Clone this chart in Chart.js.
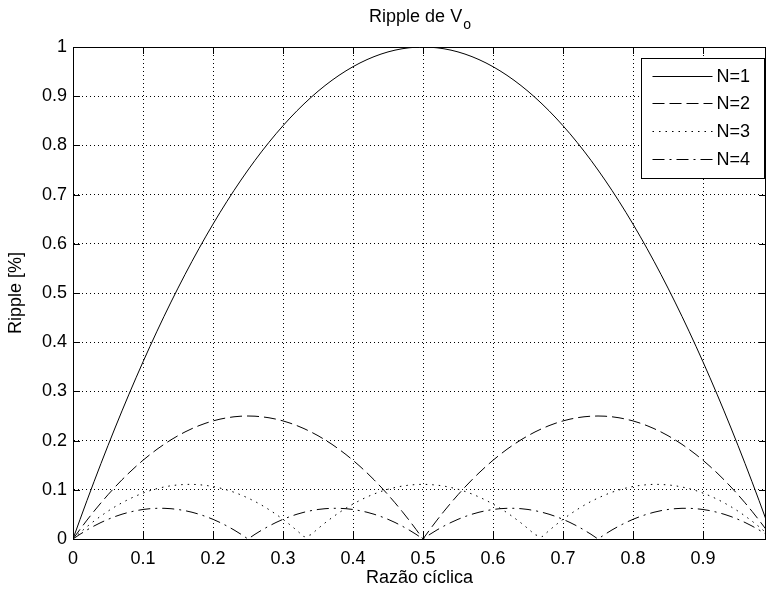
<!DOCTYPE html>
<html>
<head>
<meta charset="utf-8">
<title>Ripple de Vo</title>
<script src="https://cdn.jsdelivr.net/npm/chart.js@4.4.1/dist/chart.umd.min.js"></script>
<style>
  html, body { margin: 0; padding: 0; background: #fff; }
  canvas { display: block; }
</style>
</head>
<body>
<canvas id="ripple" width="766" height="594"></canvas>
<script>
// razao ciclica (D), 0 .. 0.99
const razao = [
  0, 0.01, 0.02, 0.03, 0.04, 0.05, 0.06, 0.07, 0.08, 0.09,
  0.10, 0.11, 0.12, 0.13, 0.14, 0.15, 0.16, 0.17, 0.18, 0.19,
  0.20, 0.21, 0.22, 0.23, 0.24, 0.25, 0.26, 0.27, 0.28, 0.29,
  0.30, 0.31, 0.32, 0.33, 0.34, 0.35, 0.36, 0.37, 0.38, 0.39,
  0.40, 0.41, 0.42, 0.43, 0.44, 0.45, 0.46, 0.47, 0.48, 0.49,
  0.50, 0.51, 0.52, 0.53, 0.54, 0.55, 0.56, 0.57, 0.58, 0.59,
  0.60, 0.61, 0.62, 0.63, 0.64, 0.65, 0.66, 0.67, 0.68, 0.69,
  0.70, 0.71, 0.72, 0.73, 0.74, 0.75, 0.76, 0.77, 0.78, 0.79,
  0.80, 0.81, 0.82, 0.83, 0.84, 0.85, 0.86, 0.87, 0.88, 0.89,
  0.90, 0.91, 0.92, 0.93, 0.94, 0.95, 0.96, 0.97, 0.98, 0.99
];

// ripple, one value per D above
const rippleN1 = [
  0, 0.0396, 0.0784, 0.1164, 0.1536, 0.19, 0.2256, 0.2604, 0.2944, 0.3276,
  0.36, 0.3916, 0.4224, 0.4524, 0.4816, 0.51, 0.5376, 0.5644, 0.5904, 0.6156,
  0.64, 0.6636, 0.6864, 0.7084, 0.7296, 0.75, 0.7696, 0.7884, 0.8064, 0.8236,
  0.84, 0.8556, 0.8704, 0.8844, 0.8976, 0.91, 0.9216, 0.9324, 0.9424, 0.9516,
  0.96, 0.9676, 0.9744, 0.9804, 0.9856, 0.99, 0.9936, 0.9964, 0.9984, 0.9996,
  1, 0.9996, 0.9984, 0.9964, 0.9936, 0.99, 0.9856, 0.9804, 0.9744, 0.9676,
  0.96, 0.9516, 0.9424, 0.9324, 0.9216, 0.91, 0.8976, 0.8844, 0.8704, 0.8556,
  0.84, 0.8236, 0.8064, 0.7884, 0.7696, 0.75, 0.7296, 0.7084, 0.6864, 0.6636,
  0.64, 0.6156, 0.5904, 0.5644, 0.5376, 0.51, 0.4816, 0.4524, 0.4224, 0.3916,
  0.36, 0.3276, 0.2944, 0.2604, 0.2256, 0.19, 0.1536, 0.1164, 0.0784, 0.0396
];
const rippleN2 = [
  0, 0.0196, 0.0384, 0.0564, 0.0736, 0.09, 0.1056, 0.1204, 0.1344, 0.1476,
  0.16, 0.1716, 0.1824, 0.1924, 0.2016, 0.21, 0.2176, 0.2244, 0.2304, 0.2356,
  0.24, 0.2436, 0.2464, 0.2484, 0.2496, 0.25, 0.2496, 0.2484, 0.2464, 0.2436,
  0.24, 0.2356, 0.2304, 0.2244, 0.2176, 0.21, 0.2016, 0.1924, 0.1824, 0.1716,
  0.16, 0.1476, 0.1344, 0.1204, 0.1056, 0.09, 0.0736, 0.0564, 0.0384, 0.0196,
  0, 0.0196, 0.0384, 0.0564, 0.0736, 0.09, 0.1056, 0.1204, 0.1344, 0.1476,
  0.16, 0.1716, 0.1824, 0.1924, 0.2016, 0.21, 0.2176, 0.2244, 0.2304, 0.2356,
  0.24, 0.2436, 0.2464, 0.2484, 0.2496, 0.25, 0.2496, 0.2484, 0.2464, 0.2436,
  0.24, 0.2356, 0.2304, 0.2244, 0.2176, 0.21, 0.2016, 0.1924, 0.1824, 0.1716,
  0.16, 0.1476, 0.1344, 0.1204, 0.1056, 0.09, 0.0736, 0.0564, 0.0384, 0.0196
];
const rippleN3 = [
  0, 0.0129, 0.0251, 0.0364, 0.0469, 0.0567, 0.0656, 0.0737, 0.0811, 0.0876,
  0.0933, 0.0983, 0.1024, 0.1057, 0.1083, 0.11, 0.1109, 0.1111, 0.1104, 0.1089,
  0.1067, 0.1036, 0.0997, 0.0951, 0.0896, 0.0833, 0.0763, 0.0684, 0.0597, 0.0503,
  0.04, 0.0289, 0.0171, 0.0044, 0.0087, 0.0211, 0.0327, 0.0435, 0.0535, 0.0627,
  0.0711, 0.0787, 0.0855, 0.0915, 0.0967, 0.1011, 0.1047, 0.1075, 0.1095, 0.1107,
  0.1111, 0.1107, 0.1095, 0.1075, 0.1047, 0.1011, 0.0967, 0.0915, 0.0855, 0.0787,
  0.0711, 0.0627, 0.0535, 0.0435, 0.0327, 0.0211, 0.0087, 0.0044, 0.0171, 0.0289,
  0.04, 0.0503, 0.0597, 0.0684, 0.0763, 0.0833, 0.0896, 0.0951, 0.0997, 0.1036,
  0.1067, 0.1089, 0.1104, 0.1111, 0.1109, 0.11, 0.1083, 0.1057, 0.1024, 0.0983,
  0.0933, 0.0876, 0.0811, 0.0737, 0.0656, 0.0567, 0.0469, 0.0364, 0.0251, 0.0129
];
const rippleN4 = [
  0, 0.0096, 0.0184, 0.0264, 0.0336, 0.04, 0.0456, 0.0504, 0.0544, 0.0576,
  0.06, 0.0616, 0.0624, 0.0624, 0.0616, 0.06, 0.0576, 0.0544, 0.0504, 0.0456,
  0.04, 0.0336, 0.0264, 0.0184, 0.0096, 0, 0.0096, 0.0184, 0.0264, 0.0336,
  0.04, 0.0456, 0.0504, 0.0544, 0.0576, 0.06, 0.0616, 0.0624, 0.0624, 0.0616,
  0.06, 0.0576, 0.0544, 0.0504, 0.0456, 0.04, 0.0336, 0.0264, 0.0184, 0.0096,
  0, 0.0096, 0.0184, 0.0264, 0.0336, 0.04, 0.0456, 0.0504, 0.0544, 0.0576,
  0.06, 0.0616, 0.0624, 0.0624, 0.0616, 0.06, 0.0576, 0.0544, 0.0504, 0.0456,
  0.04, 0.0336, 0.0264, 0.0184, 0.0096, 0, 0.0096, 0.0184, 0.0264, 0.0336,
  0.04, 0.0456, 0.0504, 0.0544, 0.0576, 0.06, 0.0616, 0.0624, 0.0624, 0.0616,
  0.06, 0.0576, 0.0544, 0.0504, 0.0456, 0.04, 0.0336, 0.0264, 0.0184, 0.0096
];

const seriesNames = ['N=1', 'N=2', 'N=3', 'N=4'];
const xTicks = [0, 0.1, 0.2, 0.3, 0.4, 0.5, 0.6, 0.7, 0.8, 0.9];
const yTicks = [0, 0.1, 0.2, 0.3, 0.4, 0.5, 0.6, 0.7, 0.8, 0.9, 1];

const FONT = 'Liberation Sans, Arial, sans-serif';
const dashes = [[], [12, 5], [1.5, 5], [12, 5, 2, 5]];

const toPoints = (ys) => razao.map((d, i) => ({ x: d, y: ys[i] }));

// matlab look: title with subscript, box, inward ticks, framed legend
const matlabFrame = {
  id: 'matlabFrame',
  afterDraw(chart) {
    const ctx = chart.ctx;
    const area = chart.chartArea;
    const xs = chart.scales.x, ys = chart.scales.y;
    ctx.save();

    // top + right edges of the box
    ctx.strokeStyle = '#000';
    ctx.lineWidth = 1;
    ctx.setLineDash([]);
    ctx.beginPath();
    ctx.moveTo(area.left, area.top + 0.5);
    ctx.lineTo(area.right - 0.5, area.top + 0.5);
    ctx.lineTo(area.right - 0.5, area.bottom);
    ctx.stroke();

    // tick marks pointing in
    const tl = 7;
    ctx.beginPath();
    xTicks.forEach(v => {
      const px = Math.round(xs.getPixelForValue(v)) + 0.5;
      ctx.moveTo(px, area.bottom); ctx.lineTo(px, area.bottom - tl);
      ctx.moveTo(px, area.top); ctx.lineTo(px, area.top + tl);
    });
    yTicks.forEach(v => {
      const py = Math.round(ys.getPixelForValue(v)) + 0.5;
      ctx.moveTo(area.left, py); ctx.lineTo(area.left + tl, py);
      ctx.moveTo(area.right, py); ctx.lineTo(area.right - tl, py);
    });
    ctx.stroke();

    // title "Ripple de V" + subscript o
    const cx = (area.left + area.right) / 2;
    ctx.fillStyle = '#000';
    ctx.textBaseline = 'alphabetic';
    ctx.font = '18px ' + FONT;
    const main = 'Ripple de V';
    const w1 = ctx.measureText(main).width;
    ctx.font = '14px ' + FONT;
    const w2 = ctx.measureText('o').width;
    const x0 = cx - (w1 + w2) / 2;
    ctx.font = '18px ' + FONT;
    ctx.textAlign = 'left';
    ctx.fillText(main, x0, 22);
    ctx.font = '14px ' + FONT;
    ctx.fillText('o', x0 + w1 + 1, 29);

    // legend
    const bw = 123, bh = 120;
    const bx = Math.round(area.right - 2 - bw) + 0.5;
    const by = Math.round(area.top + 11) + 0.5;
    ctx.fillStyle = '#fff';
    ctx.fillRect(bx, by, bw, bh);
    ctx.strokeRect(bx, by, bw, bh);
    ctx.font = '18px ' + FONT;
    ctx.textBaseline = 'middle';
    chart.data.datasets.forEach((ds, i) => {
      const ly = Math.round(by + 17 + i * 27.8) + 0.5;
      ctx.strokeStyle = ds.borderColor;
      ctx.lineWidth = ds.borderWidth;
      ctx.setLineDash(ds.borderDash || []);
      ctx.beginPath();
      ctx.moveTo(bx + 11, ly);
      ctx.lineTo(bx + 71, ly);
      ctx.stroke();
      ctx.fillStyle = '#000';
      ctx.fillText(ds.label, bx + 75, ly + 1);
    });
    ctx.restore();
  }
};

new Chart(document.getElementById('ripple'), {
  type: 'line',
  data: {
    datasets: [rippleN1, rippleN2, rippleN3, rippleN4].map((ys, i) => ({
      label: seriesNames[i],
      data: toPoints(ys),
      borderColor: '#000',
      borderWidth: 1,
      borderDash: dashes[i],
      pointRadius: 0,
      tension: 0,
      fill: false
    }))
  },
  options: {
    responsive: false,
    animation: false,
    devicePixelRatio: 1,
    layout: { padding: { top: 47, right: 0, bottom: 0, left: 0 } },
    plugins: {
      legend: { display: false },
      title: { display: false },
      tooltip: { enabled: false }
    },
    scales: {
      x: {
        type: 'linear',
        min: 0,
        max: 0.99,
        afterBuildTicks: (s) => { s.ticks = xTicks.map(v => ({ value: v })); },
        afterFit: (s) => { s.height = 55; },
        ticks: { color: '#000', padding: 9, maxRotation: 0, font: { family: FONT, size: 18 }, callback: v => String(v) },
        grid: { color: '#000', lineWidth: 1, drawTicks: false },
        border: { display: true, color: '#000', width: 1, dash: [1, 3] },
        title: { display: true, text: 'Razão cíclica', color: '#000', font: { family: FONT, size: 18 }, padding: { top: 0, bottom: 5 } }
      },
      y: {
        min: 0,
        max: 1,
        afterBuildTicks: (s) => { s.ticks = yTicks.map(v => ({ value: v })); },
        afterFit: (s) => { s.width = 73; },
        ticks: { color: '#000', padding: 6, font: { family: FONT, size: 18 }, callback: v => String(v) },
        grid: { color: '#000', lineWidth: 1, drawTicks: false },
        border: { display: true, color: '#000', width: 1, dash: [1, 3] },
        title: { display: true, text: 'Ripple [%]', color: '#000', font: { family: FONT, size: 18 }, padding: { top: 5, bottom: 0 } }
      }
    }
  },
  plugins: [matlabFrame]
});
</script>
</body>
</html>
